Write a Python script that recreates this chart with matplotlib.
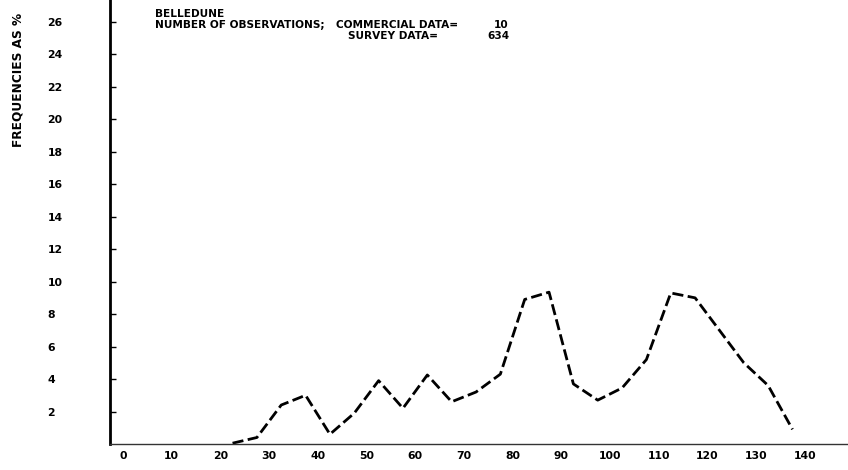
import matplotlib
matplotlib.use("Agg")
import matplotlib.pyplot as plt

# ---- data ----
lengths = [22.5, 27.5, 32.5, 37.5, 42.5, 47.5, 52.5, 57.5, 62.5, 67.5, 72.5, 77.5,
           82.5, 87.5, 92.5, 97.5, 102.5, 107.5, 112.5, 117.5, 122.5, 127.5, 132.5, 137.5]
freqs = [0.05, 0.4, 2.4, 3.0, 0.6, 1.9, 3.9, 2.2, 4.25, 2.6, 3.2, 4.3,
         8.9, 9.35, 3.7, 2.7, 3.45, 5.2, 9.3, 9.0, 7.0, 5.0, 3.6, 0.9]
xticks = list(range(0, 141, 10))
yticks = list(range(2, 27, 2))
title_line1 = "BELLEDUNE"
obs_label = "NUMBER OF OBSERVATIONS;"
comm_label = "COMMERCIAL DATA="
comm_n = "10"
surv_label = "SURVEY DATA="
surv_n = "634"
ylabel = "FREQUENCIES AS %"

W, H = 848, 470
fig = plt.figure(figsize=(W / 100, H / 100), dpi=100)
ax = fig.add_axes([110 / W, 26 / H, 1 - 110 / W, 1 - 26 / H])

FONT = dict(family="DejaVu Sans", weight="bold")

ax.plot(lengths, freqs, color="black", lw=2.0, linestyle=(0, (4, 1.6)),
        solid_capstyle="butt", dash_capstyle="butt")

ax.set_xlim(-2.67, 148.9)
ax.set_ylim(0, 27.34)

for s in ["top", "right"]:
    ax.spines[s].set_visible(False)
ax.spines["left"].set_linewidth(2.0)
ax.spines["bottom"].set_linewidth(1.0)
ax.spines["bottom"].set_color("#333333")

ax.set_xticks(xticks)
ax.set_xticklabels([str(t) for t in xticks], fontsize=7.8, **FONT)
ax.tick_params(axis="x", length=0, pad=5)

ax.set_yticks(yticks)
ax.set_yticklabels([str(t) for t in yticks], fontsize=7.8, **FONT)
ax.tick_params(axis="y", direction="in", length=4, width=1.0, pad=45)
for lab in ax.get_yticklabels():
    lab.set_horizontalalignment("left")

# header text (figure pixel coordinates)
def ftext(x, y, s, **kw):
    fig.text(x / W, 1 - y / H, s, fontsize=7.6, va="center", **FONT, **kw)

ftext(155, 14, title_line1)
ftext(155, 25, obs_label)
ftext(336, 25, comm_label)
ftext(508, 25, comm_n, ha="right")
ftext(348, 36, surv_label)
ftext(510, 36, surv_n, ha="right")

fig.text(18 / W, 1 - 80 / H, ylabel, rotation=90, fontsize=8.7, ha="center",
         va="center", **FONT)

fig.savefig("out.png", dpi=100)
